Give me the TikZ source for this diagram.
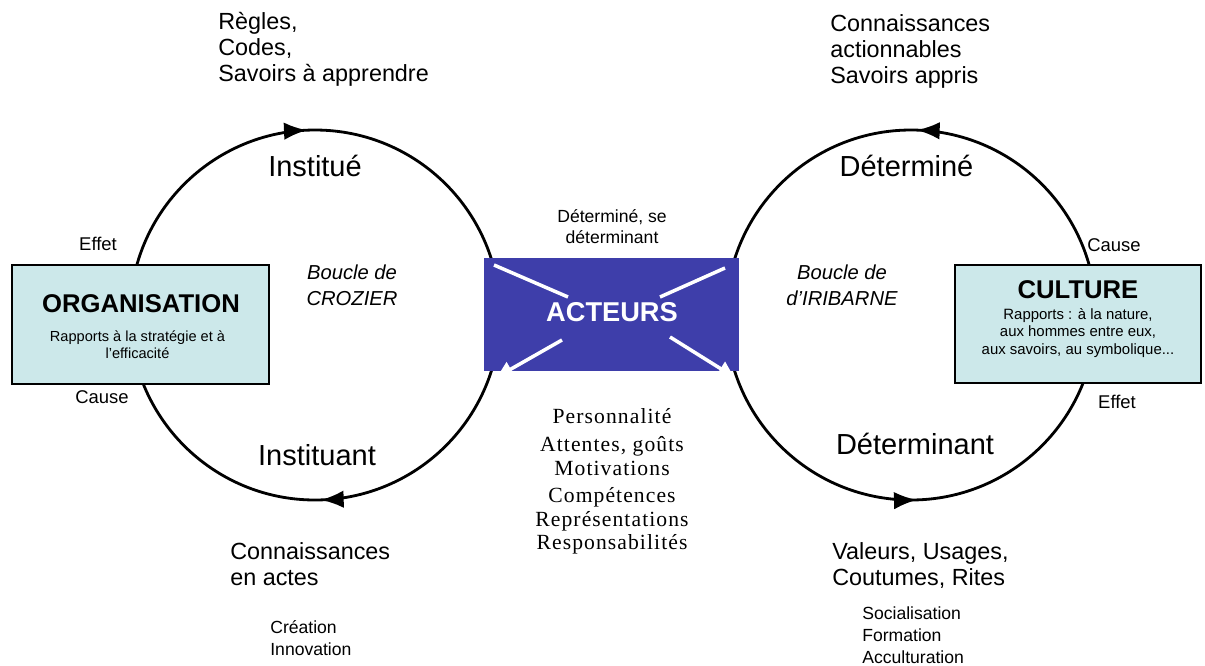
\documentclass[tikz,border=0pt]{standalone}
\usepackage{fontspec}
\setmainfont{Liberation Sans}
\newfontfamily\listfont{Liberation Serif}[LetterSpace=5]
\usetikzlibrary{arrows.meta,decorations.markings}

\definecolor{boxcyan}{RGB}{204,232,234}
\definecolor{actblue}{RGB}{62,62,170}

\tikzset{
  boucle/.style={line width=1.6pt},
  cwtips/.style={postaction={decorate}, decoration={markings,
      mark=at position 0.257 with {\arrowreversed{Latex[length=13pt,width=10pt]}},
      mark=at position 0.755 with {\arrowreversed{Latex[length=13pt,width=10pt]}}}},
  ccwtips/.style={postaction={decorate}, decoration={markings,
      mark=at position 0.245 with {\arrow{Latex[length=13pt,width=10pt]}},
      mark=at position 0.755 with {\arrow{Latex[length=13pt,width=10pt]}}}},
  sidebox/.style={draw=black, line width=1.6pt, fill=boxcyan, inner sep=0pt},
  actbox/.style={fill=actblue, inner sep=0pt},
  boxtitle/.style={font=\fontsize{14.6}{17}\selectfont\bfseries},
  boxsub/.style={font=\fontsize{8.3}{9.6}\selectfont, align=center, inner sep=0pt},
  phase/.style={font=\fontsize{16.5}{19}\selectfont},
  outcome/.style={font=\fontsize{13.3}{14.8}\selectfont, align=left, anchor=north west, inner sep=0pt},
  minor/.style={font=\fontsize{10}{12.5}\selectfont, align=left, anchor=north west, inner sep=0pt},
  causal/.style={font=\fontsize{10.5}{12}\selectfont},
  bouclename/.style={font=\fontsize{11.5}{14.8}\selectfont\itshape, align=center},
  trait/.style={font=\listfont\fontsize{12.3}{14}\selectfont},
  ray/.style={draw=white, line width=2pt},
}

\begin{document}
\begin{tikzpicture}
  \useasboundingbox (0,0) rectangle (24.1,-13.3);

  \coordinate (lc) at (6.3,-6.3);
  \coordinate (rc) at (18.22,-6.3);
  \draw[boucle, cwtips] (lc) circle[radius=3.7];
  \draw[boucle, ccwtips] (rc) circle[radius=3.7];

  \node[sidebox, minimum width=5.14cm, minimum height=2.38cm] (org) at (2.81,-6.49) {};
  \node[sidebox, minimum width=4.92cm, minimum height=2.36cm] (cult) at (21.56,-6.48) {};
  \node[actbox, minimum width=5.1cm, minimum height=2.26cm] (act) at (12.23,-6.29) {};

  \node[boxtitle] (orgtitle) at (2.82,-6.08) {ORGANISATION};
  \node[boxsub] (orgsub) at (2.75,-6.9) {Rapports à la stratégie et à\\l'efficacité};
  \node[boxtitle] (culttitle) at (21.56,-5.8) {CULTURE};
  \node[boxsub, font=\fontsize{8.5}{10.2}\selectfont] (cultsub) at (21.56,-6.66)
    {Rapports : à la nature,\\aux hommes entre eux,\\aux savoirs, au symbolique...};
  \node[boxtitle, white, font=\fontsize{15.5}{18}\selectfont\bfseries] (acttitle) at (12.24,-6.24) {ACTEURS};

  \coordinate (w1) at (9.88,-5.3);
  \coordinate (w2) at (11.36,-5.94);
  \coordinate (w3) at (13.2,-5.94);
  \coordinate (w4) at (14.5,-5.36);
  \coordinate (w5) at (11.24,-6.8);
  \coordinate (w6) at (9.94,-7.54);
  \coordinate (w7) at (13.4,-6.74);
  \coordinate (w8) at (14.68,-7.54);
  \draw[ray] (w1) -- (w2);
  \draw[ray] (w3) -- (w4);
  \draw[ray, -{Triangle[length=9pt,width=9pt]}] (w5) -- (w6);
  \draw[ray, -{Triangle[length=9pt,width=9pt]}] (w7) -- (w8);

  \node[outcome] (regles) at (4.36,-0.24) {Règles,\\Codes,\\Savoirs à apprendre};
  \node[outcome] (connact) at (16.6,-0.28) {Connaissances\\actionnables\\Savoirs appris};
  \node[phase] (institue) at (6.3,-3.32) {Institué};
  \node[phase] (determine) at (18.13,-3.32) {Déterminé};
  \node[phase] (instituant) at (6.34,-9.1) {Instituant};
  \node[phase] (determinant) at (18.3,-8.88) {Déterminant};

  \node[causal] (effetg) at (1.96,-4.88) {Effet};
  \node[causal] (causeg) at (2.04,-7.94) {Cause};
  \node[causal] (caused) at (22.28,-4.9) {Cause};
  \node[causal] (effetd) at (22.34,-8.04) {Effet};

  \node[bouclename] (crozier) at (7.04,-5.7) {Boucle de\\CROZIER};
  \node[bouclename] (iribarne) at (16.84,-5.7) {Boucle de\\d'IRIBARNE};
  \node[causal, align=center, font=\fontsize{10}{12}\selectfont] (detse) at (12.24,-4.54) {Déterminé, se\\déterminant};

  \foreach \yy/\txt [count=\i] in {8.32/Personnalité, 8.92/{Attentes, goûts}, 9.36/Motivations,
      9.94/Compétences, 10.42/Représentations, 10.88/Responsabilités}
    \node[trait] (trait\i) at (12.24,-\yy) {\txt};

  \node[outcome] (connactes) at (4.6,-10.84) {Connaissances\\en actes};
  \node[minor] (creation) at (5.4,-12.4) {Création\\Innovation};
  \node[outcome] (valeurs) at (16.64,-10.84) {Valeurs, Usages,\\Coutumes, Rites};
  \node[minor] (social) at (17.24,-12.12) {Socialisation\\Formation\\Acculturation};
\end{tikzpicture}
\end{document}
